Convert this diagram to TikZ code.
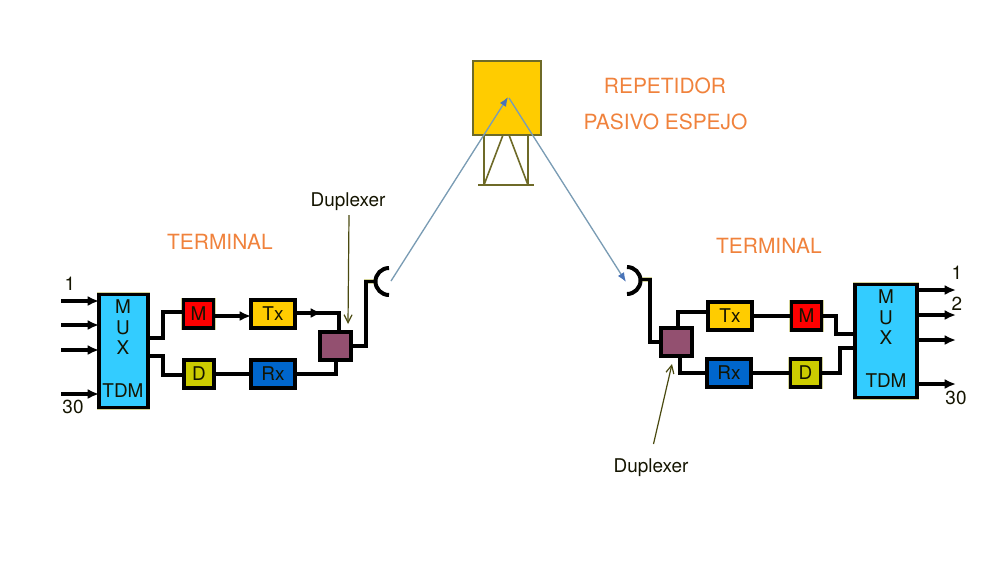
\documentclass[tikz,border=0pt]{standalone}
\usepackage{fontspec}
\setmainfont{TeX Gyre Heros}
\usetikzlibrary{arrows.meta}
\definecolor{halo}{HTML}{D4D498}
\definecolor{orangetxt}{HTML}{F0823C}
\definecolor{inktxt}{HTML}{141400}
\definecolor{muxblue}{HTML}{33CCFF}
\definecolor{gold}{HTML}{FFCC00}
\definecolor{rxblue}{HTML}{0066CC}
\definecolor{dyellow}{HTML}{CCCC00}
\definecolor{dupl}{HTML}{935070}
\definecolor{tower}{HTML}{6E6A28}
\definecolor{ray}{HTML}{7A9CB4}
\definecolor{tiprgb}{HTML}{4A74B8}
\definecolor{ptr}{HTML}{4A4A10}
\tikzset{
  x=0.75pt,y=-0.75pt,
  boxsize/.style 2 args={minimum width=#1*0.75pt,minimum height=#2*0.75pt},
  block/.style={draw=black,line width=2.6pt,inner sep=0pt,outer sep=0pt,text=inktxt,
    font=\fontsize{14.2pt}{15pt}\selectfont,
    preaction={draw=halo,line width=3.2pt}},
  wire/.style={draw=black,line width=2.7pt,line join=miter,
    preaction={draw=halo,line width=3.2pt}},
  wirearrow/.style={draw=black,line width=2.7pt,-{Latex[length=8.5pt,width=7.5pt]}},
  dishline/.style={draw=black,line width=3pt},
  title/.style={text=orangetxt,font=\fontsize{15.7pt}{18pt}\selectfont,inner sep=0pt},
  label/.style={text=inktxt,font=\fontsize{14.2pt}{16pt}\selectfont,inner sep=0pt},
  muxletter/.style={text=inktxt,font=\fontsize{14.2pt}{16pt}\selectfont,inner sep=0pt},
  pointer/.style={draw=ptr,line width=0.9pt,-{Straight Barb[length=6pt,width=6pt]}},
  rayline/.style={draw=ray,line width=1pt},
  towerline/.style={draw=tower,line width=1.2pt},
}
\begin{document}
\begin{tikzpicture}
\useasboundingbox (0,0) rectangle (1000,562);
% Repeater
\node[draw=tower,line width=1.3pt,fill=gold,inner sep=0pt,outer sep=0pt,boxsize={68}{74}] (rep) at (507,98) {};
\coordinate (tl) at (484,185);
\coordinate (tr) at (528,185);
\coordinate (bl) at (478,185);
\coordinate (br) at (534,185);
\draw[towerline] (bl) -- (br);
\draw[towerline] (rep.south -| tl) -- (tl);
\draw[towerline] (rep.south -| tr) -- (tr);
\draw[towerline] (rep.south -| 503,0) -- (tl);
\draw[towerline] (rep.south -| 509,0) -- (tr);
% Titles
\node[title] (t1) at (665,85.5) {REPETIDOR};
\node[title] (t2) at (665.5,122) {PASIVO ESPEJO};
\node[title] (t3) at (220,242) {TERMINAL};
\node[title] (t4) at (769,246) {TERMINAL};
% Left terminal
\node[block,fill=muxblue,boxsize={49}{113}] (muxL) at (123.5,351) {};
\node[muxletter] (lm) at (123,307) {M};
\node[muxletter] (lu) at (123,328) {U};
\node[muxletter] (lx) at (123,348) {X};
\node[muxletter] (ltdm) at (123,391) {TDM};
\node[block,fill=red,boxsize={30}{28}] (mL) at (198.5,314) {M};
\node[block,fill=dyellow,boxsize={30}{28}] (dL) at (199,374) {D};
\node[block,fill=gold,boxsize={44}{28}] (txL) at (273,314) {Tx};
\node[block,fill=rxblue,boxsize={44}{28}] (rxL) at (273,374) {Rx};
\node[block,fill=dupl,boxsize={31}{28}] (dupL) at (335.5,346) {};
\coordinate (dishL) at (389,281.5);
\coordinate (dishLb) at (376,281.5);
% Left inputs
\coordinate (i1) at (61,301);
\coordinate (i2) at (61,325);
\coordinate (i3) at (61,350);
\coordinate (i4) at (61,394);
\foreach \c in {i1,i2,i3,i4}{
  \draw[draw=halo,line width=3.2pt] (\c) -- ++(26,0);
  \draw[wirearrow] (\c) -- (muxL.west |- \c);
}
\node[label] (l1) at (70,283.5) {1};
\node[label] (l30) at (73,407) {30};
% Left wires
\draw[wire] (muxL.east |- 0,338) -| (163,312) -- (mL.west |- 0,312);
\draw[wire] (muxL.east |- 0,356) -| (163,375) -- (dL.west |- 0,375);
\draw[wirearrow] (mL.east |- 0,316) -- (txL.west |- 0,316);
\draw[wire] (dL.east) -- (rxL.west);
\coordinate (txLa) at (322,313);
\draw[wire] (txL.east |- txLa) -| (dupL.north -| 339,0);
\draw[wirearrow] (txL.east |- txLa) -- (txLa);
\draw[wire] (rxL.east) -| (dupL.south -| 336,0);
\draw[wire] (dupL.east) -| (366,281.5) -- (dishLb);
\draw[dishline] ([shift={(389,268)}]0,0) arc[start angle=90,end angle=270,radius=13.5*0.75pt];
\node[label] (dupLtxt) at (348,202) {Duplexer};
\draw[pointer] (349,215) -- (dupLtxt.south |- 0,324);
% Right terminal
\node[block,fill=muxblue,boxsize={62}{113}] (muxR) at (886,341) {};
\node[muxletter] (rm) at (886,297) {M};
\node[muxletter] (ru) at (886,318) {U};
\node[muxletter] (rx) at (886,338) {X};
\node[muxletter] (rtdm) at (886,380.5) {TDM};
\node[block,fill=red,boxsize={30}{28}] (mR) at (806.5,316) {M};
\node[block,fill=dyellow,boxsize={30}{28}] (dR) at (805.5,373) {D};
\node[block,fill=gold,boxsize={44}{28}] (txR) at (730,316) {Tx};
\node[block,fill=rxblue,boxsize={44}{28}] (rxR) at (729,373) {Rx};
\node[block,fill=dupl,boxsize={31}{28}] (dupR) at (676.5,342) {};
\coordinate (dishRb) at (640,279.5);
\draw[wire] (dishRb) -- (650,279.5) |- (dupR.west);
\draw[dishline] ([shift={(627,267)}]0,0) arc[start angle=90,end angle=-90,radius=13.5*0.75pt];
\draw[wire] (dupR.north -| 678,0) |- (txR.west |- 0,312);
\draw[wire] (dupR.south -| 680,0) |- (rxR.west);
\draw[wire] (txR.east) -- (mR.west);
\draw[wire] (rxR.east) -- (dR.west);
\draw[wire] (mR.east) -- (836,316) |- (muxR.west |- 0,334);
\draw[wire] (dR.east) -- (840,373) |- (muxR.west |- 0,348);
\coordinate (o1) at (956,290);
\coordinate (o2) at (956,315);
\coordinate (o3) at (956,340);
\coordinate (o4) at (956,384);
\foreach \c in {o1,o2,o3,o4}{
  \draw[wirearrow] (muxR.east |- \c) -- (\c);
}
\node[label] (r1) at (957,272.5) {1};
\node[label] (r2) at (957,304) {2};
\node[label] (r30) at (956,397.5) {30};
\node[label] (dupRtxt) at (651,468) {Duplexer};
\coordinate (dupRp) at (653.5,444);
\coordinate (dupRq) at (672,364);
\draw[pointer] (dupRp) -- (dupRq);
% Rays
\coordinate (rayA) at (391,281);
\coordinate (rayB) at (508,97);
\coordinate (rayC) at (509,98);
\coordinate (rayD) at (626,282);
\draw[rayline,-{Latex[length=7pt,width=5.5pt,color=tiprgb]}] (rayA) -- (rayB);
\draw[rayline,-{Latex[length=7pt,width=5.5pt,color=tiprgb]}] (rayC) -- (rayD);
\end{tikzpicture}
\end{document}
